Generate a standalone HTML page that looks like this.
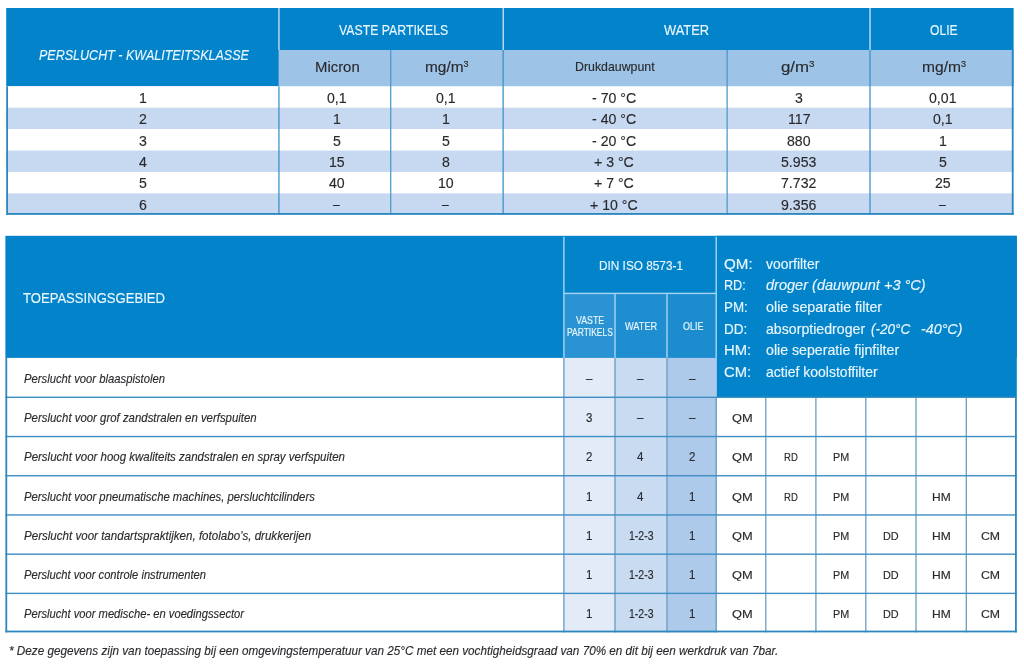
<!DOCTYPE html>
<html lang="nl"><head><meta charset="utf-8"><title>Perslucht kwaliteitsklasse</title>
<style>
html,body{margin:0;padding:0;background:#fff;}
body{width:1024px;height:668px;position:relative;overflow:hidden;font-family:"Liberation Sans",sans-serif;}
.b{position:absolute;}
.t{position:absolute;white-space:nowrap;transform-origin:0 50%;-webkit-text-stroke:0.15px currentColor;}
.i{font-style:italic;}
.s{font-size:58%;position:relative;top:-0.62em;line-height:0;}
</style></head><body>
<svg class="b" style="left:0;top:0" width="1024" height="668" viewBox="0 0 1024 668">
<rect x="6.2" y="8" width="1007.4" height="78.3" fill="#0383c9"/>
<rect x="278.6" y="50" width="735" height="36.3" fill="#9dc3e6"/>
<rect x="6.2" y="86.3" width="1007.4" height="21.47" fill="#fff"/>
<rect x="6.2" y="107.72" width="1007.4" height="21.47" fill="#c6d9f0"/>
<rect x="6.2" y="129.13" width="1007.4" height="21.47" fill="#fff"/>
<rect x="6.2" y="150.55" width="1007.4" height="21.47" fill="#c6d9f0"/>
<rect x="6.2" y="171.97" width="1007.4" height="21.47" fill="#fff"/>
<rect x="6.2" y="193.38" width="1007.4" height="21.47" fill="#c6d9f0"/>
<rect x="278.2" y="8" width="1.5" height="42" fill="#b5d9f1"/>
<rect x="502.5" y="8" width="1.5" height="42" fill="#b5d9f1"/>
<rect x="869.3" y="8" width="1.5" height="42" fill="#b5d9f1"/>
<rect x="278.3" y="86.3" width="1.25" height="128.5" fill="#3a90c6"/>
<rect x="390.1" y="50" width="1.25" height="164.8" fill="#4a98c8"/>
<rect x="502.5" y="50" width="1.25" height="164.8" fill="#3a90c6"/>
<rect x="726.5" y="50" width="1.25" height="164.8" fill="#4a98c8"/>
<rect x="869.4" y="50" width="1.25" height="164.8" fill="#3a90c6"/>
<rect x="6.2" y="86.3" width="1.8" height="128.5" fill="#2d87be"/>
<rect x="1011.8" y="50" width="1.8" height="164.8" fill="#2d87be"/>
<rect x="6.2" y="213" width="1007.4" height="1.8" fill="#2d87be"/>
<rect x="5.4" y="235.8" width="1011.4" height="122.1" fill="#0383c9"/>
<rect x="716.5" y="235.8" width="300.3" height="161.9" fill="#0383c9"/>
<rect x="563.9" y="293.4" width="51.1" height="64.5" fill="#2a93d3"/>
<rect x="615" y="293.4" width="52" height="64.5" fill="#1f8ed0"/>
<rect x="667" y="293.4" width="49.2" height="64.5" fill="#1c8ccf"/>
<rect x="563.9" y="357.9" width="51.1" height="274.5" fill="#e2ebf7"/>
<rect x="615" y="357.9" width="52" height="274.5" fill="#c9dbf1"/>
<rect x="667" y="357.9" width="49.2" height="274.5" fill="#aecaea"/>
<rect x="563.2" y="236.8" width="1.4" height="121.1" fill="#a9d5f0"/>
<rect x="715.5" y="236.8" width="1.4" height="121.1" fill="#a9d5f0"/>
<rect x="614.3" y="293.4" width="1.4" height="64.5" fill="#a9d5f0"/>
<rect x="666.3" y="293.4" width="1.4" height="64.5" fill="#a9d5f0"/>
<rect x="563.9" y="292.7" width="152.3" height="1.4" fill="#a9d5f0"/>
<rect x="563.2" y="357.9" width="1.4" height="274.5" fill="#6ea2c4"/>
<rect x="614.3" y="357.9" width="1.4" height="274.5" fill="#6ea2c4"/>
<rect x="666.3" y="357.9" width="1.4" height="274.5" fill="#6ea2c4"/>
<rect x="715.5" y="397.7" width="1.4" height="234.7" fill="#6b9fbe"/>
<rect x="765.15" y="397.7" width="1.3" height="234.7" fill="#6b9fbe"/>
<rect x="815.25" y="397.7" width="1.3" height="234.7" fill="#6b9fbe"/>
<rect x="865.15" y="397.7" width="1.3" height="234.7" fill="#6b9fbe"/>
<rect x="915.35" y="397.7" width="1.3" height="234.7" fill="#6b9fbe"/>
<rect x="965.65" y="397.7" width="1.3" height="234.7" fill="#6b9fbe"/>
<rect x="5.4" y="396.61" width="1011.4" height="1.4" fill="#3f8fc4"/>
<rect x="5.4" y="435.83" width="1011.4" height="1.4" fill="#3f8fc4"/>
<rect x="5.4" y="475.04" width="1011.4" height="1.4" fill="#3f8fc4"/>
<rect x="5.4" y="514.26" width="1011.4" height="1.4" fill="#3f8fc4"/>
<rect x="5.4" y="553.47" width="1011.4" height="1.4" fill="#3f8fc4"/>
<rect x="5.4" y="592.69" width="1011.4" height="1.4" fill="#3f8fc4"/>
<rect x="5.4" y="357.9" width="1.8" height="274.5" fill="#2d87be"/>
<rect x="1015" y="397.7" width="1.8" height="234.7" fill="#2d87be"/>
<rect x="5.4" y="630.6" width="1011.4" height="1.8" fill="#2d87be"/>
</svg>
<div class="t i" style="left:39px;top:45px;line-height:20px;font-size:15.5px;color:#eaf7ff;transform:scaleX(0.8077);">PERSLUCHT - KWALITEITSKLASSE</div>
<div class="t" style="left:338.5px;top:20px;line-height:20px;font-size:15px;color:#eaf7ff;transform:scaleX(0.8195);">VASTE PARTIKELS</div>
<div class="t" style="left:664.1px;top:20px;line-height:20px;font-size:15px;color:#eaf7ff;transform:scaleX(0.8590);">WATER</div>
<div class="t" style="left:929.5px;top:20px;line-height:20px;font-size:15px;color:#eaf7ff;transform:scaleX(0.8059);">OLIE</div>
<div class="t" style="left:314.7px;top:58px;line-height:19px;font-size:14.6px;color:#2a2a2e;transform:scaleX(1.0205);">Micron</div>
<div class="t" style="left:425.1px;top:58px;line-height:19px;font-size:14.6px;color:#2a2a2e;transform:scaleX(1.0580);">mg/m<span class="s">3</span></div>
<div class="t" style="left:575px;top:58px;line-height:17px;font-size:12.9px;color:#2a2a2e;transform:scaleX(0.9572);">Drukdauwpunt</div>
<div class="t" style="left:781px;top:58px;line-height:19px;font-size:14.6px;color:#2a2a2e;transform:scaleX(1.1533);">g/m<span class="s">3</span></div>
<div class="t" style="left:922px;top:58px;line-height:19px;font-size:14.6px;color:#2a2a2e;transform:scaleX(1.0677);">mg/m<span class="s">3</span></div>
<div class="t" style="left:138.86px;top:88px;line-height:20px;font-size:15.2px;color:#2a2a2e;transform:scaleX(0.9300);">1</div>
<div class="t" style="left:326.75px;top:88px;line-height:20px;font-size:15.2px;color:#2a2a2e;transform:scaleX(0.9300);">0,1</div>
<div class="t" style="left:435.95px;top:88px;line-height:20px;font-size:15.2px;color:#2a2a2e;transform:scaleX(0.9300);">0,1</div>
<div class="t" style="left:591.83px;top:88px;line-height:20px;font-size:15.2px;color:#2a2a2e;transform:scaleX(0.9300);">- 70 °C</div>
<div class="t" style="left:794.86px;top:88px;line-height:20px;font-size:15.2px;color:#2a2a2e;transform:scaleX(0.9300);">3</div>
<div class="t" style="left:929.07px;top:88px;line-height:20px;font-size:15.2px;color:#2a2a2e;transform:scaleX(0.9300);">0,01</div>
<div class="t" style="left:138.86px;top:109px;line-height:20px;font-size:15.2px;color:#2a2a2e;transform:scaleX(0.9300);">2</div>
<div class="t" style="left:332.66px;top:109px;line-height:20px;font-size:15.2px;color:#2a2a2e;transform:scaleX(0.9300);">1</div>
<div class="t" style="left:441.86px;top:109px;line-height:20px;font-size:15.2px;color:#2a2a2e;transform:scaleX(0.9300);">1</div>
<div class="t" style="left:591.83px;top:109px;line-height:20px;font-size:15.2px;color:#2a2a2e;transform:scaleX(0.9300);">- 40 °C</div>
<div class="t" style="left:787.56px;top:109px;line-height:20px;font-size:15.2px;color:#2a2a2e;transform:scaleX(0.9300);">117</div>
<div class="t" style="left:932.95px;top:109px;line-height:20px;font-size:15.2px;color:#2a2a2e;transform:scaleX(0.9300);">0,1</div>
<div class="t" style="left:138.86px;top:131px;line-height:20px;font-size:15.2px;color:#2a2a2e;transform:scaleX(0.9300);">3</div>
<div class="t" style="left:332.66px;top:131px;line-height:20px;font-size:15.2px;color:#2a2a2e;transform:scaleX(0.9300);">5</div>
<div class="t" style="left:441.86px;top:131px;line-height:20px;font-size:15.2px;color:#2a2a2e;transform:scaleX(0.9300);">5</div>
<div class="t" style="left:591.83px;top:131px;line-height:20px;font-size:15.2px;color:#2a2a2e;transform:scaleX(0.9300);">- 20 °C</div>
<div class="t" style="left:786.98px;top:131px;line-height:20px;font-size:15.2px;color:#2a2a2e;transform:scaleX(0.9300);">880</div>
<div class="t" style="left:938.86px;top:131px;line-height:20px;font-size:15.2px;color:#2a2a2e;transform:scaleX(0.9300);">1</div>
<div class="t" style="left:138.86px;top:152px;line-height:20px;font-size:15.2px;color:#2a2a2e;transform:scaleX(0.9300);">4</div>
<div class="t" style="left:328.72px;top:152px;line-height:20px;font-size:15.2px;color:#2a2a2e;transform:scaleX(0.9300);">15</div>
<div class="t" style="left:441.86px;top:152px;line-height:20px;font-size:15.2px;color:#2a2a2e;transform:scaleX(0.9300);">8</div>
<div class="t" style="left:593.97px;top:152px;line-height:20px;font-size:15.2px;color:#2a2a2e;transform:scaleX(0.9300);">+ 3 °C</div>
<div class="t" style="left:781.13px;top:152px;line-height:20px;font-size:15.2px;color:#2a2a2e;transform:scaleX(0.9300);">5.953</div>
<div class="t" style="left:938.86px;top:152px;line-height:20px;font-size:15.2px;color:#2a2a2e;transform:scaleX(0.9300);">5</div>
<div class="t" style="left:138.86px;top:173px;line-height:20px;font-size:15.2px;color:#2a2a2e;transform:scaleX(0.9300);">5</div>
<div class="t" style="left:328.72px;top:173px;line-height:20px;font-size:15.2px;color:#2a2a2e;transform:scaleX(0.9300);">40</div>
<div class="t" style="left:437.92px;top:173px;line-height:20px;font-size:15.2px;color:#2a2a2e;transform:scaleX(0.9300);">10</div>
<div class="t" style="left:593.97px;top:173px;line-height:20px;font-size:15.2px;color:#2a2a2e;transform:scaleX(0.9300);">+ 7 °C</div>
<div class="t" style="left:781.13px;top:173px;line-height:20px;font-size:15.2px;color:#2a2a2e;transform:scaleX(0.9300);">7.732</div>
<div class="t" style="left:934.92px;top:173px;line-height:20px;font-size:15.2px;color:#2a2a2e;transform:scaleX(0.9300);">25</div>
<div class="t" style="left:138.86px;top:195px;line-height:20px;font-size:15.2px;color:#2a2a2e;transform:scaleX(0.9300);">6</div>
<div class="t" style="left:333.21px;top:194px;line-height:20px;font-size:15.2px;color:#2a2a2e;transform:scaleX(0.8000);">–</div>
<div class="t" style="left:442.41px;top:194px;line-height:20px;font-size:15.2px;color:#2a2a2e;transform:scaleX(0.8000);">–</div>
<div class="t" style="left:590.03px;top:195px;line-height:20px;font-size:15.2px;color:#2a2a2e;transform:scaleX(0.9300);">+ 10 °C</div>
<div class="t" style="left:781.13px;top:195px;line-height:20px;font-size:15.2px;color:#2a2a2e;transform:scaleX(0.9300);">9.356</div>
<div class="t" style="left:939.41px;top:194px;line-height:20px;font-size:15.2px;color:#2a2a2e;transform:scaleX(0.8000);">–</div>
<div class="t" style="left:23.3px;top:289px;line-height:19px;font-size:14.4px;color:#eaf7ff;transform:scaleX(0.9087);">TOEPASSINGSGEBIED</div>
<div class="t" style="left:598.6px;top:257px;line-height:17px;font-size:12.8px;color:#eaf7ff;transform:scaleX(0.9220);">DIN ISO 8573-1</div>
<div class="t" style="left:575.7px;top:314px;line-height:13px;font-size:10.2px;color:#eaf7ff;transform:scaleX(0.8620);">VASTE</div>
<div class="t" style="left:566.8px;top:326px;line-height:13px;font-size:10.2px;color:#eaf7ff;transform:scaleX(0.8311);">PARTIKELS</div>
<div class="t" style="left:625px;top:320px;line-height:13px;font-size:10.2px;color:#eaf7ff;transform:scaleX(0.9020);">WATER</div>
<div class="t" style="left:682.6px;top:320px;line-height:13px;font-size:10.2px;color:#eaf7ff;transform:scaleX(0.8813);">OLIE</div>
<div class="t" style="left:723.5px;top:255px;line-height:19px;font-size:14.6px;color:#eaf7ff;transform:scaleX(1.0371);">QM:</div>
<div class="t" style="left:765.5px;top:255px;line-height:19px;font-size:14.6px;color:#eaf7ff;transform:scaleX(0.9531);">voorfilter</div>
<div class="t" style="left:723.5px;top:276px;line-height:19px;font-size:14.6px;color:#eaf7ff;transform:scaleX(0.8648);">RD:</div>
<div class="t i" style="left:765.5px;top:276px;line-height:19px;font-size:14.6px;color:#eaf7ff;transform:scaleX(0.9958);">droger (dauwpunt +3 °C)</div>
<div class="t" style="left:723.5px;top:298px;line-height:19px;font-size:14.6px;color:#eaf7ff;transform:scaleX(0.9170);">PM:</div>
<div class="t" style="left:765.5px;top:298px;line-height:19px;font-size:14.6px;color:#eaf7ff;transform:scaleX(0.9804);">olie separatie filter</div>
<div class="t" style="left:723.5px;top:320px;line-height:19px;font-size:14.6px;color:#eaf7ff;transform:scaleX(0.9244);">DD:</div>
<div class="t" style="left:765.5px;top:320px;line-height:19px;font-size:14.6px;color:#eaf7ff;transform:scaleX(0.9697);">absorptiedroger</div>
<div class="t i" style="left:870.9px;top:320px;line-height:19px;font-size:14.6px;color:#eaf7ff;transform:scaleX(0.9283);">(-20°C</div>
<div class="t i" style="left:920.6px;top:320px;line-height:19px;font-size:14.6px;color:#eaf7ff;transform:scaleX(0.9787);">-40°C)</div>
<div class="t" style="left:723.5px;top:341px;line-height:19px;font-size:14.6px;color:#eaf7ff;transform:scaleX(1.0148);">HM:</div>
<div class="t" style="left:765.5px;top:341px;line-height:19px;font-size:14.6px;color:#eaf7ff;transform:scaleX(0.9713);">olie seperatie fijnfilter</div>
<div class="t" style="left:723.5px;top:363px;line-height:19px;font-size:14.6px;color:#eaf7ff;transform:scaleX(1.0148);">CM:</div>
<div class="t" style="left:765.5px;top:363px;line-height:19px;font-size:14.6px;color:#eaf7ff;transform:scaleX(0.9584);">actief koolstoffilter</div>
<div class="t i" style="left:23.6px;top:371px;line-height:16px;font-size:12.2px;color:#2a2a2e;transform:scaleX(0.9251);">Perslucht voor blaaspistolen</div>
<div class="t" style="left:586.14px;top:371px;line-height:16px;font-size:12.4px;color:#2a2a2e;transform:scaleX(0.9300);">–</div>
<div class="t" style="left:637.34px;top:371px;line-height:16px;font-size:12.4px;color:#2a2a2e;transform:scaleX(0.9300);">–</div>
<div class="t" style="left:689.34px;top:371px;line-height:16px;font-size:12.4px;color:#2a2a2e;transform:scaleX(0.9300);">–</div>
<div class="t i" style="left:23.6px;top:410px;line-height:16px;font-size:12.2px;color:#2a2a2e;transform:scaleX(0.9359);">Perslucht voor grof zandstralen en verfspuiten</div>
<div class="t" style="left:586.2px;top:410px;line-height:16px;font-size:12.4px;color:#2a2a2e;transform:scaleX(0.9300);">3</div>
<div class="t" style="left:637.34px;top:410px;line-height:16px;font-size:12.4px;color:#2a2a2e;transform:scaleX(0.9300);">–</div>
<div class="t" style="left:689.34px;top:410px;line-height:16px;font-size:12.4px;color:#2a2a2e;transform:scaleX(0.9300);">–</div>
<div class="t" style="left:732.2px;top:411px;line-height:15px;font-size:11.3px;color:#2a2a2e;transform:scaleX(1.1370);">QM</div>
<div class="t i" style="left:23.6px;top:449px;line-height:16px;font-size:12.2px;color:#2a2a2e;transform:scaleX(0.9419);">Perslucht voor hoog kwaliteits zandstralen en spray verfspuiten</div>
<div class="t" style="left:586.2px;top:449px;line-height:16px;font-size:12.4px;color:#2a2a2e;transform:scaleX(0.9300);">2</div>
<div class="t" style="left:637.4px;top:449px;line-height:16px;font-size:12.4px;color:#2a2a2e;transform:scaleX(0.9300);">4</div>
<div class="t" style="left:689.4px;top:449px;line-height:16px;font-size:12.4px;color:#2a2a2e;transform:scaleX(0.9300);">2</div>
<div class="t" style="left:732.2px;top:450px;line-height:15px;font-size:11.3px;color:#2a2a2e;transform:scaleX(1.1370);">QM</div>
<div class="t" style="left:784px;top:450px;line-height:15px;font-size:11.3px;color:#2a2a2e;transform:scaleX(0.8455);">RD</div>
<div class="t" style="left:833.2px;top:450px;line-height:15px;font-size:11.3px;color:#2a2a2e;transform:scaleX(0.9558);">PM</div>
<div class="t i" style="left:23.6px;top:489px;line-height:16px;font-size:12.2px;color:#2a2a2e;transform:scaleX(0.9272);">Perslucht voor pneumatische machines, persluchtcilinders</div>
<div class="t" style="left:586.2px;top:489px;line-height:16px;font-size:12.4px;color:#2a2a2e;transform:scaleX(0.9300);">1</div>
<div class="t" style="left:637.4px;top:489px;line-height:16px;font-size:12.4px;color:#2a2a2e;transform:scaleX(0.9300);">4</div>
<div class="t" style="left:689.4px;top:489px;line-height:16px;font-size:12.4px;color:#2a2a2e;transform:scaleX(0.9300);">1</div>
<div class="t" style="left:732.2px;top:490px;line-height:15px;font-size:11.3px;color:#2a2a2e;transform:scaleX(1.1370);">QM</div>
<div class="t" style="left:784px;top:490px;line-height:15px;font-size:11.3px;color:#2a2a2e;transform:scaleX(0.8455);">RD</div>
<div class="t" style="left:833.2px;top:490px;line-height:15px;font-size:11.3px;color:#2a2a2e;transform:scaleX(0.9558);">PM</div>
<div class="t" style="left:932px;top:490px;line-height:15px;font-size:11.3px;color:#2a2a2e;transform:scaleX(1.0638);">HM</div>
<div class="t i" style="left:23.6px;top:528px;line-height:16px;font-size:12.2px;color:#2a2a2e;transform:scaleX(0.9492);">Perslucht voor tandartspraktijken, fotolabo’s, drukkerijen</div>
<div class="t" style="left:586.2px;top:528px;line-height:16px;font-size:12.4px;color:#2a2a2e;transform:scaleX(0.9300);">1</div>
<div class="t" style="left:628.8px;top:528px;line-height:16px;font-size:12.4px;color:#2a2a2e;transform:scaleX(0.8502);">1-2-3</div>
<div class="t" style="left:689.4px;top:528px;line-height:16px;font-size:12.4px;color:#2a2a2e;transform:scaleX(0.9300);">1</div>
<div class="t" style="left:732.2px;top:529px;line-height:15px;font-size:11.3px;color:#2a2a2e;transform:scaleX(1.1370);">QM</div>
<div class="t" style="left:833.2px;top:529px;line-height:15px;font-size:11.3px;color:#2a2a2e;transform:scaleX(0.9558);">PM</div>
<div class="t" style="left:883.3px;top:529px;line-height:15px;font-size:11.3px;color:#2a2a2e;transform:scaleX(0.9619);">DD</div>
<div class="t" style="left:932px;top:529px;line-height:15px;font-size:11.3px;color:#2a2a2e;transform:scaleX(1.0638);">HM</div>
<div class="t" style="left:981.3px;top:529px;line-height:15px;font-size:11.3px;color:#2a2a2e;transform:scaleX(1.0866);">CM</div>
<div class="t i" style="left:23.6px;top:567px;line-height:16px;font-size:12.2px;color:#2a2a2e;transform:scaleX(0.9170);">Perslucht voor controle instrumenten</div>
<div class="t" style="left:586.2px;top:567px;line-height:16px;font-size:12.4px;color:#2a2a2e;transform:scaleX(0.9300);">1</div>
<div class="t" style="left:628.8px;top:567px;line-height:16px;font-size:12.4px;color:#2a2a2e;transform:scaleX(0.8502);">1-2-3</div>
<div class="t" style="left:689.4px;top:567px;line-height:16px;font-size:12.4px;color:#2a2a2e;transform:scaleX(0.9300);">1</div>
<div class="t" style="left:732.2px;top:568px;line-height:15px;font-size:11.3px;color:#2a2a2e;transform:scaleX(1.1370);">QM</div>
<div class="t" style="left:833.2px;top:568px;line-height:15px;font-size:11.3px;color:#2a2a2e;transform:scaleX(0.9558);">PM</div>
<div class="t" style="left:883.3px;top:568px;line-height:15px;font-size:11.3px;color:#2a2a2e;transform:scaleX(0.9619);">DD</div>
<div class="t" style="left:932px;top:568px;line-height:15px;font-size:11.3px;color:#2a2a2e;transform:scaleX(1.0638);">HM</div>
<div class="t" style="left:981.3px;top:568px;line-height:15px;font-size:11.3px;color:#2a2a2e;transform:scaleX(1.0866);">CM</div>
<div class="t i" style="left:23.6px;top:606px;line-height:16px;font-size:12.2px;color:#2a2a2e;transform:scaleX(0.9176);">Perslucht voor medische- en voedingssector</div>
<div class="t" style="left:586.2px;top:606px;line-height:16px;font-size:12.4px;color:#2a2a2e;transform:scaleX(0.9300);">1</div>
<div class="t" style="left:628.8px;top:606px;line-height:16px;font-size:12.4px;color:#2a2a2e;transform:scaleX(0.8502);">1-2-3</div>
<div class="t" style="left:689.4px;top:606px;line-height:16px;font-size:12.4px;color:#2a2a2e;transform:scaleX(0.9300);">1</div>
<div class="t" style="left:732.2px;top:607px;line-height:15px;font-size:11.3px;color:#2a2a2e;transform:scaleX(1.1370);">QM</div>
<div class="t" style="left:833.2px;top:607px;line-height:15px;font-size:11.3px;color:#2a2a2e;transform:scaleX(0.9558);">PM</div>
<div class="t" style="left:883.3px;top:607px;line-height:15px;font-size:11.3px;color:#2a2a2e;transform:scaleX(0.9619);">DD</div>
<div class="t" style="left:932px;top:607px;line-height:15px;font-size:11.3px;color:#2a2a2e;transform:scaleX(1.0638);">HM</div>
<div class="t" style="left:981.3px;top:607px;line-height:15px;font-size:11.3px;color:#2a2a2e;transform:scaleX(1.0866);">CM</div>
<div class="t i" style="left:8.8px;top:642px;line-height:17px;font-size:12.8px;color:#2a2a2e;transform:scaleX(0.9151);">* Deze gegevens zijn van toepassing bij een omgevingstemperatuur van 25°C met een vochtigheidsgraad van 70% en dit bij een werkdruk van 7bar.</div>
</body></html>
